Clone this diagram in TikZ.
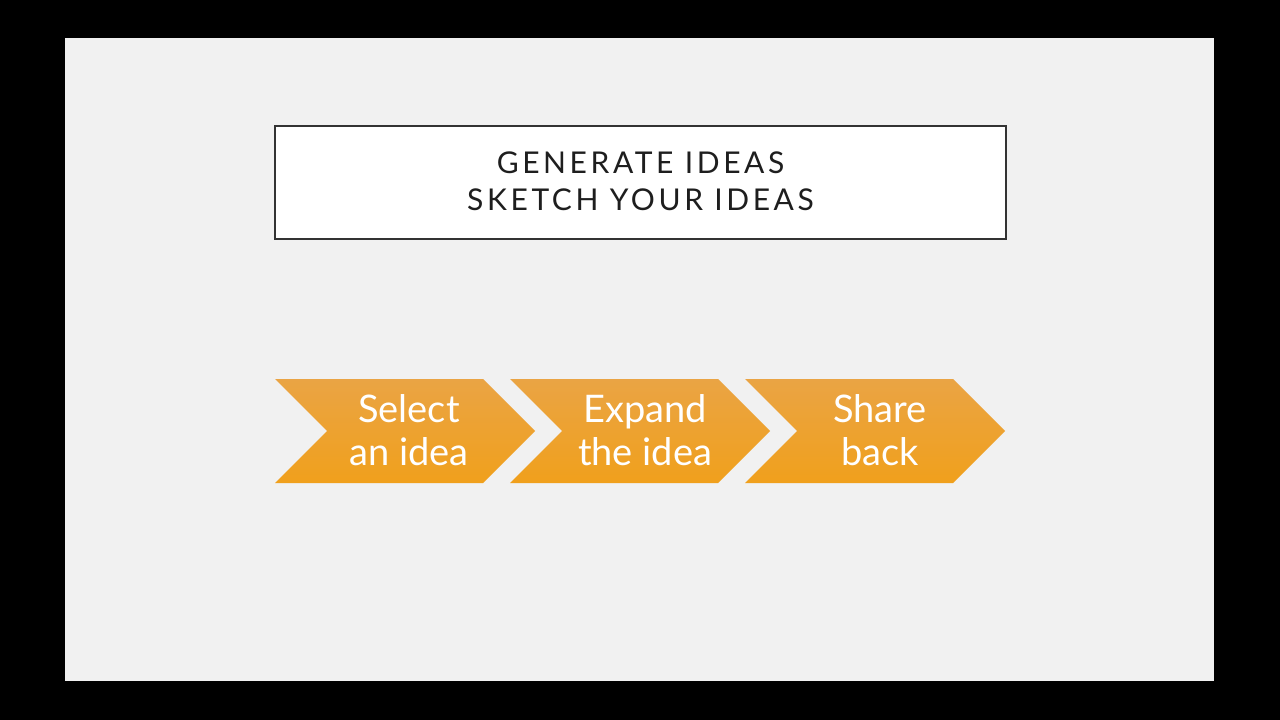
\documentclass[tikz,border=0pt]{standalone}
\usepackage{fontspec}
\setmainfont{Lato}
\newfontfamily\titlefont[LetterSpace=12]{Lato}
\definecolor{slidebg}{HTML}{F1F1F1}
\definecolor{boxline}{HTML}{333333}
\definecolor{chevtop}{HTML}{EAA444}
\definecolor{chevbot}{HTML}{F0A01C}
\definecolor{titletext}{HTML}{1E1E1E}
\tikzset{
  chev/.style={top color=chevtop, bottom color=chevbot, draw=none},
  chevlabel/.style={text=white, font=\fontsize{28.5}{32}\selectfont, align=center, inner sep=0pt},
  titlebox/.style={draw=boxline, line width=1.6pt, fill=white},
  titlelabel/.style={text=titletext, font=\titlefont\fontsize{22.5}{28}\selectfont, align=center, inner sep=0pt}
}
\begin{document}
\begin{tikzpicture}[x=0.75pt,y=-0.75pt]
\useasboundingbox (0,0) rectangle (1280,720);
\fill[black] (0,0) rectangle (1280,720);
\fill[slidebg] (65,38) rectangle (1214,681);
% title box
\draw[titlebox] (275,126) rectangle (1006,239);
\node[titlelabel] (title) at (640.5,181) {GENERATE IDEAS\\SKETCH YOUR IDEAS};
% chevrons
\foreach \i/\dx in {1/0,2/235,3/470}{
  \path[chev] (275+\dx,379) -- (483+\dx,379) -- (535+\dx,431) -- (483+\dx,483) -- (275+\dx,483) -- (327+\dx,431) -- cycle;
}
\node[chevlabel] (c1) at (409,430) {Select\\an idea};
\node[chevlabel] (c2) at (645,430) {Expand\\the idea};
\node[chevlabel] (c3) at (880,430) {Share\\back};
\end{tikzpicture}
\end{document}
